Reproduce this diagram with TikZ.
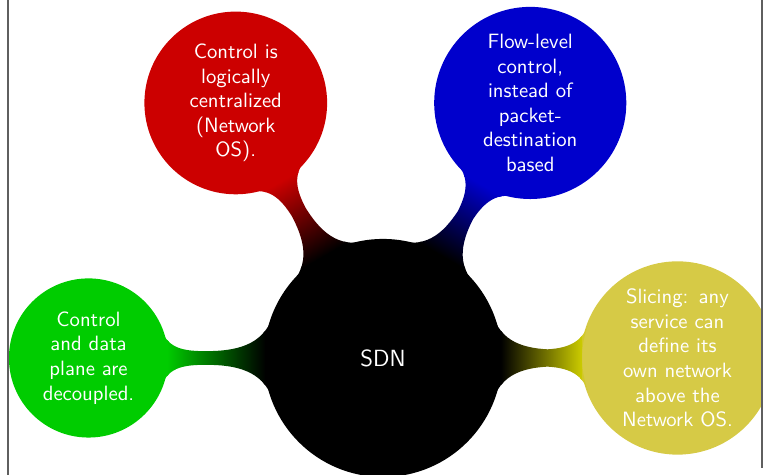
\documentclass[tikz,border=0pt]{standalone}
\usetikzlibrary{mindmap}
\definecolor{sdnyellow}{RGB}{214,202,70}
\definecolor{framegray}{RGB}{95,95,95}
\tikzset{
  childtext/.style={concept, inner sep=0pt, text width=2cm, align=center,
    font=\sffamily\fontsize{10}{11.9}\selectfont},
  frameline/.style={draw=framegray, line width=0.9pt}
}
\begin{document}
\begin{tikzpicture}[mindmap, concept color=black, text=white]
  \useasboundingbox (-6.503,-1.986) rectangle (6.486,6.078);
  \begin{scope}
    \clip (-6.367,-1.986) rectangle (6.435,6.078);
    \path node[concept, minimum size=4cm, inner sep=0pt,
               font=\sffamily\fontsize{11.3}{13.5}\selectfont] (sdn) {SDN}
      [clockwise from=180, level 1/.append style={level distance=5cm, sibling angle=60}]
      child[concept color=green!80!black] {
        node[childtext, minimum size=2.66cm] (decoup) {Control\\and data\\plane are\\decoupled.}}
      child[concept color=red!80!black] {
        node[childtext, minimum size=3.06cm] (central) {Control is\\logically\\centralized\\(Network\\OS).}}
      child[concept color=blue!80!black] {
        node[childtext, minimum size=3.22cm] (flow) {Flow-level\\control,\\instead of\\packet-\\destination\\based}}
      child[concept color=yellow!80!black] {
        node[childtext, minimum size=3.24cm, fill=sdnyellow, draw=sdnyellow] (slice) {Slicing: any\\service can\\define its\\own network\\above the\\Network OS.}};
  \end{scope}
  \coordinate (fltop) at (-6.367,6.078);
  \coordinate (flbot) at (-6.367,-1.986);
  \coordinate (frtop) at (6.435,6.078);
  \coordinate (frbot) at (6.435,-1.868);
  \draw[frameline] (fltop) -- (flbot);
  \draw[frameline] (frtop) -- (frbot);
\end{tikzpicture}
\end{document}
